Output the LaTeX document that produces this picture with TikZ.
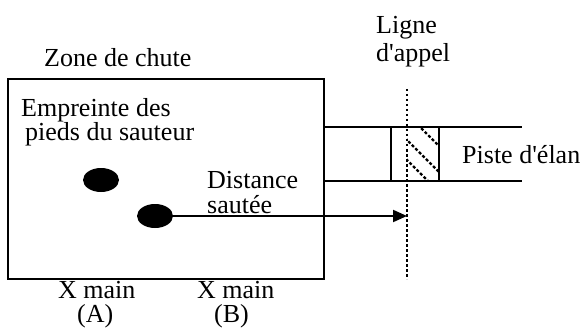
\documentclass[tikz,border=0pt]{standalone}
\usepackage{fontspec}
\setmainfont{Liberation Serif}
\usetikzlibrary{shapes.geometric,arrows.meta}
\begin{document}
\begin{tikzpicture}[x=1pt,y=-1pt,
  lbl/.style={anchor=base west,inner sep=0pt,font=\fontsize{26}{28}\selectfont},
  ln/.style={line width=2pt},
  foot/.style={ellipse,fill=black,draw=none,minimum width=36pt,minimum height=24pt,inner sep=0pt},
  hatch/.style={line width=2.2pt,dash pattern=on 3pt off 2pt},
  callline/.style={line width=2pt,dash pattern=on 2.5pt off 2.5pt}]
\useasboundingbox (0,0) rectangle (585,331);
% landing zone
\draw[ln] (8,79) rectangle (324,279);
% runway
\coordinate (r1a) at (324,127); \coordinate (r1b) at (522,127);
\coordinate (r2a) at (324,181); \coordinate (r2b) at (522,181);
\draw[ln] (r1a) -- (r1b);
\draw[ln] (r2a) -- (r2b);
\draw[ln] (391,127) -- (391,181);
\draw[ln] (439,127) -- (439,181);
% hatching
\begin{scope}
\clip (407,127) rectangle (439,181);
\draw[hatch] (400,107) -- (480,187);
\draw[hatch] (380,113) -- (460,193);
\draw[hatch] (360,113) -- (440,193);
\end{scope}
% call line
\coordinate (ltop) at (407,89);
\coordinate (lbot) at (407,279);
\draw[callline] (ltop) -- (lbot);
% footprints
\node[foot] (e1) at (101,180) {};
\node[foot] (e2) at (155,216) {};
\coordinate (tip) at (407,216);
\draw[ln,-{Triangle[length=14pt,width=12pt]}] (e2.center) -- (tip);
% labels
\node[lbl] (zc) at (44,67) {Zone de chute};
\node[lbl] (lg1) at (376,34) {Ligne};
\node[lbl] (lg2) at (376,62) {d\textquotesingle appel};
\node[lbl] (em1) at (21,117) {Empreinte des};
\node[lbl] (em2) at (25,141) {pieds du sauteur};
\node[lbl] (ds1) at (207,188) {Distance};
\node[lbl] (ds2) at (207,213) {sautée};
\node[lbl] (pe) at (462,163) {Piste d\textquotesingle élan};
\node[lbl] (xa) at (58,298) {X main};
\node[lbl] (pa) at (77,322) {(A)};
\node[lbl] (xb) at (197,298) {X main};
\node[lbl] (pb) at (214,322) {(B)};
\end{tikzpicture}
\end{document}
